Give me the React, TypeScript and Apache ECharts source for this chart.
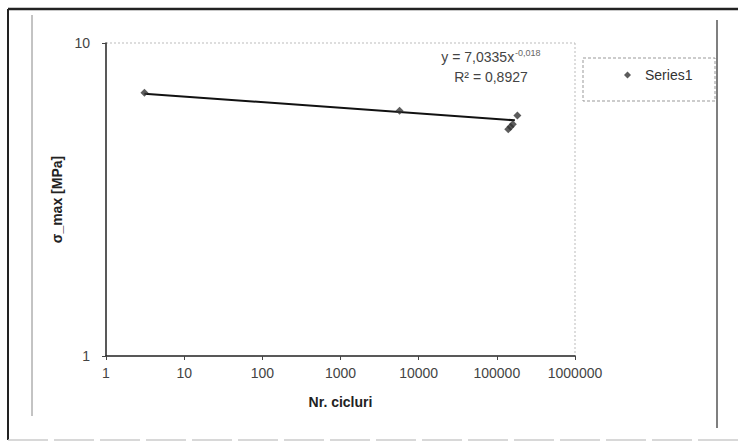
import React, { useEffect, useRef } from "react";
import * as echarts from "echarts";

const seriesName = "Series1";
const cycles = [3.1, 5700, 140000, 150000, 160000, 183000];
const sigmaMax = [6.94, 6.08, 5.3, 5.4, 5.5, 5.87];
const trendX = [3.1, 170000];
const trendY = [6.89, 5.66];
const xTicks = [1, 10, 100, 1000, 10000, 100000, 1000000];
const yTicks = [1, 10];
const equationLine1 = "y = 7,0335x";
const equationExp = "-0,018";
const equationLine2 = "R² = 0,8927";

const FONT = "'Liberation Sans', Arial, sans-serif";

export default function App() {
  const ref = useRef<HTMLDivElement>(null);
  useEffect(() => {
    if (!ref.current) return;
    const chart = echarts.init(ref.current, null, { renderer: "svg" });
    const points = cycles.map((c, i) => [c, sigmaMax[i]]);
    const trend = trendX.map((c, i) => [c, trendY[i]]);
    chart.setOption({
      animation: false,
      backgroundColor: "#ffffff",
      textStyle: { fontFamily: FONT },
      grid: { left: 106, top: 43, right: 163, bottom: 86 },
      xAxis: {
        type: "log",
        logBase: 10,
        min: xTicks[0],
        max: xTicks[xTicks.length - 1],
        splitNumber: 6,
        name: "Nr. cicluri",
        nameLocation: "middle",
        nameGap: 39,
        nameTextStyle: { fontFamily: FONT, fontSize: 14, fontWeight: "bold", color: "#222" },
        axisLine: { show: true, onZero: false, lineStyle: { color: "#222", width: 1.5 } },
        axisTick: { show: true, length: 4, lineStyle: { color: "#444" } },
        axisLabel: {
          fontFamily: FONT,
          fontSize: 14,
          color: "#444",
          margin: 10,
          formatter: (v: number) => String(Math.round(v)),
        },
        splitLine: { show: false },
      },
      yAxis: {
        type: "log",
        logBase: 10,
        min: yTicks[0],
        max: yTicks[yTicks.length - 1],
        name: "σ_max [MPa]",
        nameLocation: "middle",
        nameGap: 41,
        nameTextStyle: { fontFamily: FONT, fontSize: 14, fontWeight: "bold", color: "#222" },
        axisLine: { show: true, onZero: false, lineStyle: { color: "#222", width: 1.5 } },
        axisTick: { show: true, length: 4, lineStyle: { color: "#444" } },
        axisLabel: {
          fontFamily: FONT,
          fontSize: 14,
          color: "#444",
          margin: 16,
          formatter: (v: number) => String(Math.round(v)),
        },
        splitLine: { show: false },
      },
      legend: {
        show: true,
        left: 619,
        top: 63,
        data: [{ name: seriesName, icon: "diamond" }],
        itemWidth: 7,
        itemHeight: 7,
        itemGap: 8,
        textStyle: { fontFamily: FONT, fontSize: 14, color: "#333", padding: [0, 0, 0, 9] },
      },
      series: [
        {
          name: "trend",
          type: "line",
          data: trend,
          showSymbol: false,
          symbol: "none",
          lineStyle: { color: "#111", width: 2 },
          z: 2,
        },
        {
          name: seriesName,
          type: "scatter",
          data: points,
          symbol: "diamond",
          symbolSize: 8,
          itemStyle: { color: "#333" },
          z: 3,
        },
      ],
      graphic: [
        { type: "line", shape: { x1: 106, y1: 43, x2: 575, y2: 43 }, style: { stroke: "#bbb", lineWidth: 1, lineDash: [2, 2] } },
        { type: "line", shape: { x1: 575, y1: 43, x2: 575, y2: 356 }, style: { stroke: "#bbb", lineWidth: 1, lineDash: [2, 2] } },
        { type: "rect", shape: { x: 583, y: 58, width: 132, height: 43 }, style: { fill: "none", stroke: "#999", lineWidth: 1, lineDash: [3, 2] } },
        {
          type: "text",
          x: 491,
          y: 57,
          style: {
            text: "{a|" + equationLine1 + "}{s|" + equationExp + "}",
            align: "center",
            verticalAlign: "middle",
            rich: {
              a: { fontFamily: FONT, fontSize: 14, fill: "#444" },
              s: { fontFamily: FONT, fontSize: 9, fill: "#666", verticalAlign: "top", padding: [0, 0, 8, 1] },
            },
          },
        },
        {
          type: "text",
          x: 491,
          y: 77,
          style: { text: equationLine2, fontFamily: FONT, fontSize: 14, fill: "#444", align: "center", verticalAlign: "middle" },
        },
        { type: "line", shape: { x1: 8, y1: 9, x2: 738, y2: 9 }, style: { stroke: "#222", lineWidth: 2.5 } },
        { type: "line", shape: { x1: 8, y1: 9, x2: 8, y2: 440 }, style: { stroke: "#222", lineWidth: 2 } },
        { type: "line", shape: { x1: 8, y1: 440, x2: 738, y2: 440 }, style: { stroke: "#ccc", lineWidth: 1.5, lineDash: [40, 6] } },
        { type: "line", shape: { x1: 32, y1: 15, x2: 32, y2: 416 }, style: { stroke: "#888", lineWidth: 1 } },
        { type: "line", shape: { x1: 717, y1: 20, x2: 717, y2: 428 }, style: { stroke: "#555", lineWidth: 1.5 } },
      ],
    });
    return () => chart.dispose();
  }, []);
  return (
    <div
      ref={ref}
      style={{ position: "absolute", left: 0, top: 0, width: 738, height: 442 }}
    />
  );
}
